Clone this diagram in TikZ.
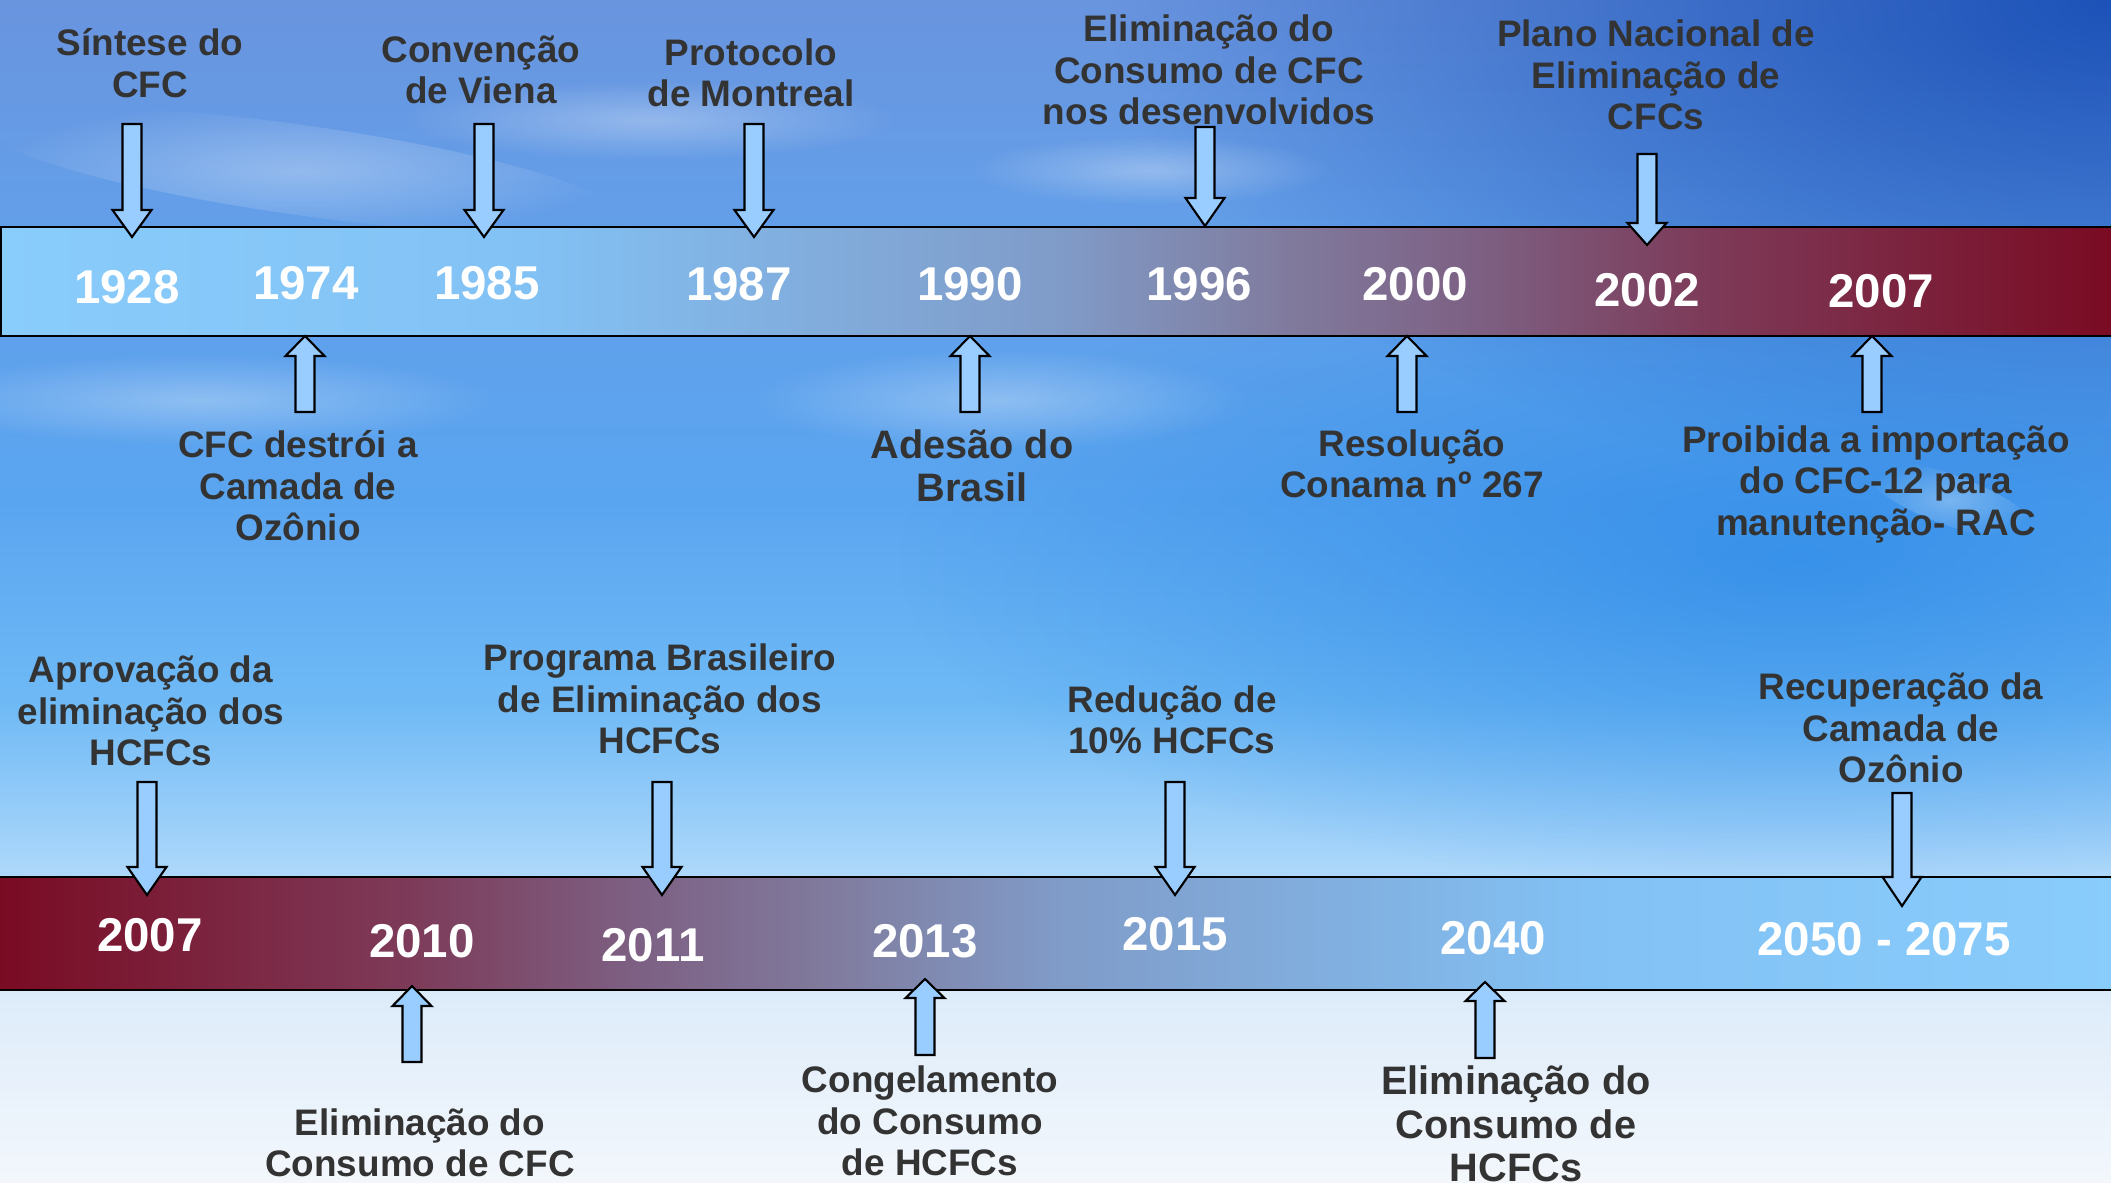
\documentclass[tikz,border=0pt]{standalone}
\usepackage{fontspec}
\setmainfont{Liberation Sans}
\usetikzlibrary{fadings}
\definecolor{txt}{RGB}{51,51,51}
\definecolor{arrfill}{RGB}{153,204,255}
\definecolor{skydeep}{RGB}{20,75,180}
\definecolor{skymid}{RGB}{40,135,230}
\tikzfading[name=softedge, inner color=transparent!0, outer color=transparent!100]
\pgfdeclarehorizontalshading{bandA}{100bp}{rgb(0bp)=(0.537,0.804,0.988); rgb(25bp)=(0.537,0.804,0.988); rgb(37.5bp)=(0.510,0.757,0.957); rgb(50bp)=(0.502,0.608,0.784); rgb(55bp)=(0.502,0.490,0.627); rgb(60bp)=(0.490,0.373,0.510); rgb(65bp)=(0.490,0.235,0.353); rgb(75bp)=(0.478,0.039,0.133); rgb(100bp)=(0.478,0.039,0.133)}
\pgfdeclarehorizontalshading{bandB}{100bp}{rgb(0bp)=(0.478,0.039,0.133); rgb(25bp)=(0.478,0.039,0.133); rgb(35bp)=(0.490,0.235,0.353); rgb(40bp)=(0.490,0.373,0.510); rgb(45bp)=(0.502,0.490,0.627); rgb(50bp)=(0.502,0.608,0.784); rgb(62.5bp)=(0.510,0.757,0.957); rgb(75bp)=(0.537,0.804,0.988); rgb(100bp)=(0.537,0.804,0.988)}
\pgfdeclareverticalshading{sky}{100bp}{rgb(0bp)=(0.953,0.969,0.988); rgb(25bp)=(0.953,0.969,0.988); rgb(32.7bp)=(0.871,0.925,0.980); rgb(39bp)=(0.647,0.831,0.980); rgb(45.4bp)=(0.431,0.725,0.961); rgb(53.8bp)=(0.353,0.647,0.941); rgb(66.5bp)=(0.392,0.620,0.910); rgb(75bp)=(0.412,0.580,0.871); rgb(100bp)=(0.412,0.580,0.871)}

\begin{document}
\begin{tikzpicture}[x=0.1mm, y=-0.1mm,
  band/.style={shade, shading=#1, draw=black, line width=0.7pt},
  blk/.style={draw=black, fill=arrfill, line width=0.6pt, line join=miter},
  cloud/.style={fill=white, path fading=softedge, opacity=0.3},
  yr/.style={font=\fontsize{13.5}{15}\selectfont\bfseries, text=white, inner sep=0pt},
  lab/.style={font=\fontsize{10.5}{11.8}\selectfont\bfseries, text=txt, align=center, inner sep=0pt},
  labbig/.style={lab, font=\fontsize{11.3}{12.4}\selectfont\bfseries},
  pics/dnarr/.style 2 args={code={
    \draw[blk] (-9.5,-#1) -- (9.5,-#1) -- (9.5,-#2) -- (19.5,-#2) -- (0,0) -- (-19.5,-#2) -- (-9.5,-#2) -- cycle;}},
  pics/uparr/.style 2 args={code={
    \draw[blk] (-9.5,#1) -- (9.5,#1) -- (9.5,#2) -- (19.5,#2) -- (0,0) -- (-19.5,#2) -- (-9.5,#2) -- cycle;}}]
\useasboundingbox (0,0) rectangle (2111,1182);
\shade[shading=sky] (0,0) rectangle (2111,1182);
\fill[skydeep, path fading=softedge, opacity=0.9] (2111,0) ellipse [x radius=1000, y radius=500];
\fill[skymid, path fading=softedge, opacity=0.7] (1800,560) ellipse [x radius=900, y radius=330];
\fill[cloud] (300,170) ellipse [x radius=320, y radius=45, rotate=-8];
\fill[cloud] (650,120) ellipse [x radius=250, y radius=40];
\fill[cloud] (1150,170) ellipse [x radius=180, y radius=35];
\fill[cloud] (1000,400) ellipse [x radius=250, y radius=50];
\fill[cloud] (200,400) ellipse [x radius=300, y radius=45];
\fill[cloud] (1950,500) ellipse [x radius=90, y radius=25, rotate=-20];

\path[band=bandA] (1,227) rectangle (2120,336);
\path[band=bandB] (-10,877) rectangle (2120,990);

\pic at (132,237) {dnarr={113}{27}};
\pic at (484,237) {dnarr={113}{27}};
\pic at (754,237) {dnarr={113}{27}};
\pic at (1205,226) {dnarr={99}{28}};
\pic at (1647,245) {dnarr={91}{22}};
\pic at (305,336) {uparr={76}{20}};
\pic at (970,336) {uparr={76}{20}};
\pic at (1407,336) {uparr={76}{20}};
\pic at (1872,336) {uparr={76}{20}};
\pic at (147,895) {dnarr={113}{28}};
\pic at (662,895) {dnarr={113}{28}};
\pic at (1175,895) {dnarr={113}{28}};
\pic at (1902,906) {dnarr={113}{29}};
\pic at (412,986) {uparr={76}{20}};
\pic at (925,979) {uparr={76}{19}};
\pic at (1485,982) {uparr={76}{19}};

\node[yr] (y1) at (127,287) {1928};
\node[yr] (y2) at (306,283) {1974};
\node[yr] (y3) at (487,283) {1985};
\node[yr] (y4) at (739,284) {1987};
\node[yr] (y5) at (970,284) {1990};
\node[yr] (y6) at (1199,284) {1996};
\node[yr] (y7) at (1415,284) {2000};
\node[yr] (y8) at (1647,290) {2002};
\node[yr] (y9) at (1881,291) {2007};

\node[yr] (a1) at (150,935) {2007};
\node[yr] (a2) at (422,941) {2010};
\node[yr] (a3) at (653,945) {2011};
\node[yr] (a4) at (925,941) {2013};
\node[yr] (a5) at (1175,934) {2015};
\node[yr] (a6) at (1493,938) {2040};
\node[yr] (a7) at (1884,939) {2050 - 2075};

\node[lab] (t1) at (150,63) {Síntese do\\CFC};
\node[lab] (t2) at (481,70) {Convenção\\de Viena};
\node[lab] (t3) at (751,73) {Protocolo\\de Montreal};
\node[lab] (t4) at (1209,70) {Eliminação do\\Consumo de CFC\\nos desenvolvidos};
\node[lab] (t5) at (1656,75) {Plano Nacional de\\Eliminação de\\CFCs};

\node[lab] (d1) at (298,486) {CFC destrói a\\Camada de\\Ozônio};
\node[labbig] (d2) at (972,466) {Adesão do\\Brasil};
\node[lab] (d3) at (1412,464) {Resolução\\Conama nº 267};
\node[lab] (d4) at (1876,484) {Proibida a importação\\do CFC-12 para\\manutenção- RAC};

\node[lab] (p1) at (151,711) {Aprovação da\\eliminação dos\\HCFCs};
\node[lab] (p2) at (660,699) {Programa Brasileiro\\de Eliminação dos\\HCFCs};
\node[lab] (p3) at (1172,720) {Redução de\\10\% HCFCs};
\node[lab] (p4) at (1901,728) {Recuperação da\\Camada de\\Ozônio};

\node[lab] (q1) at (420,1143) {Eliminação do\\Consumo de CFC};
\node[lab] (q2) at (930,1121) {Congelamento\\do Consumo\\de HCFCs};
\node[labbig] (q3) at (1516,1124) {Eliminação do\\Consumo de\\HCFCs};
\end{tikzpicture}
\end{document}
